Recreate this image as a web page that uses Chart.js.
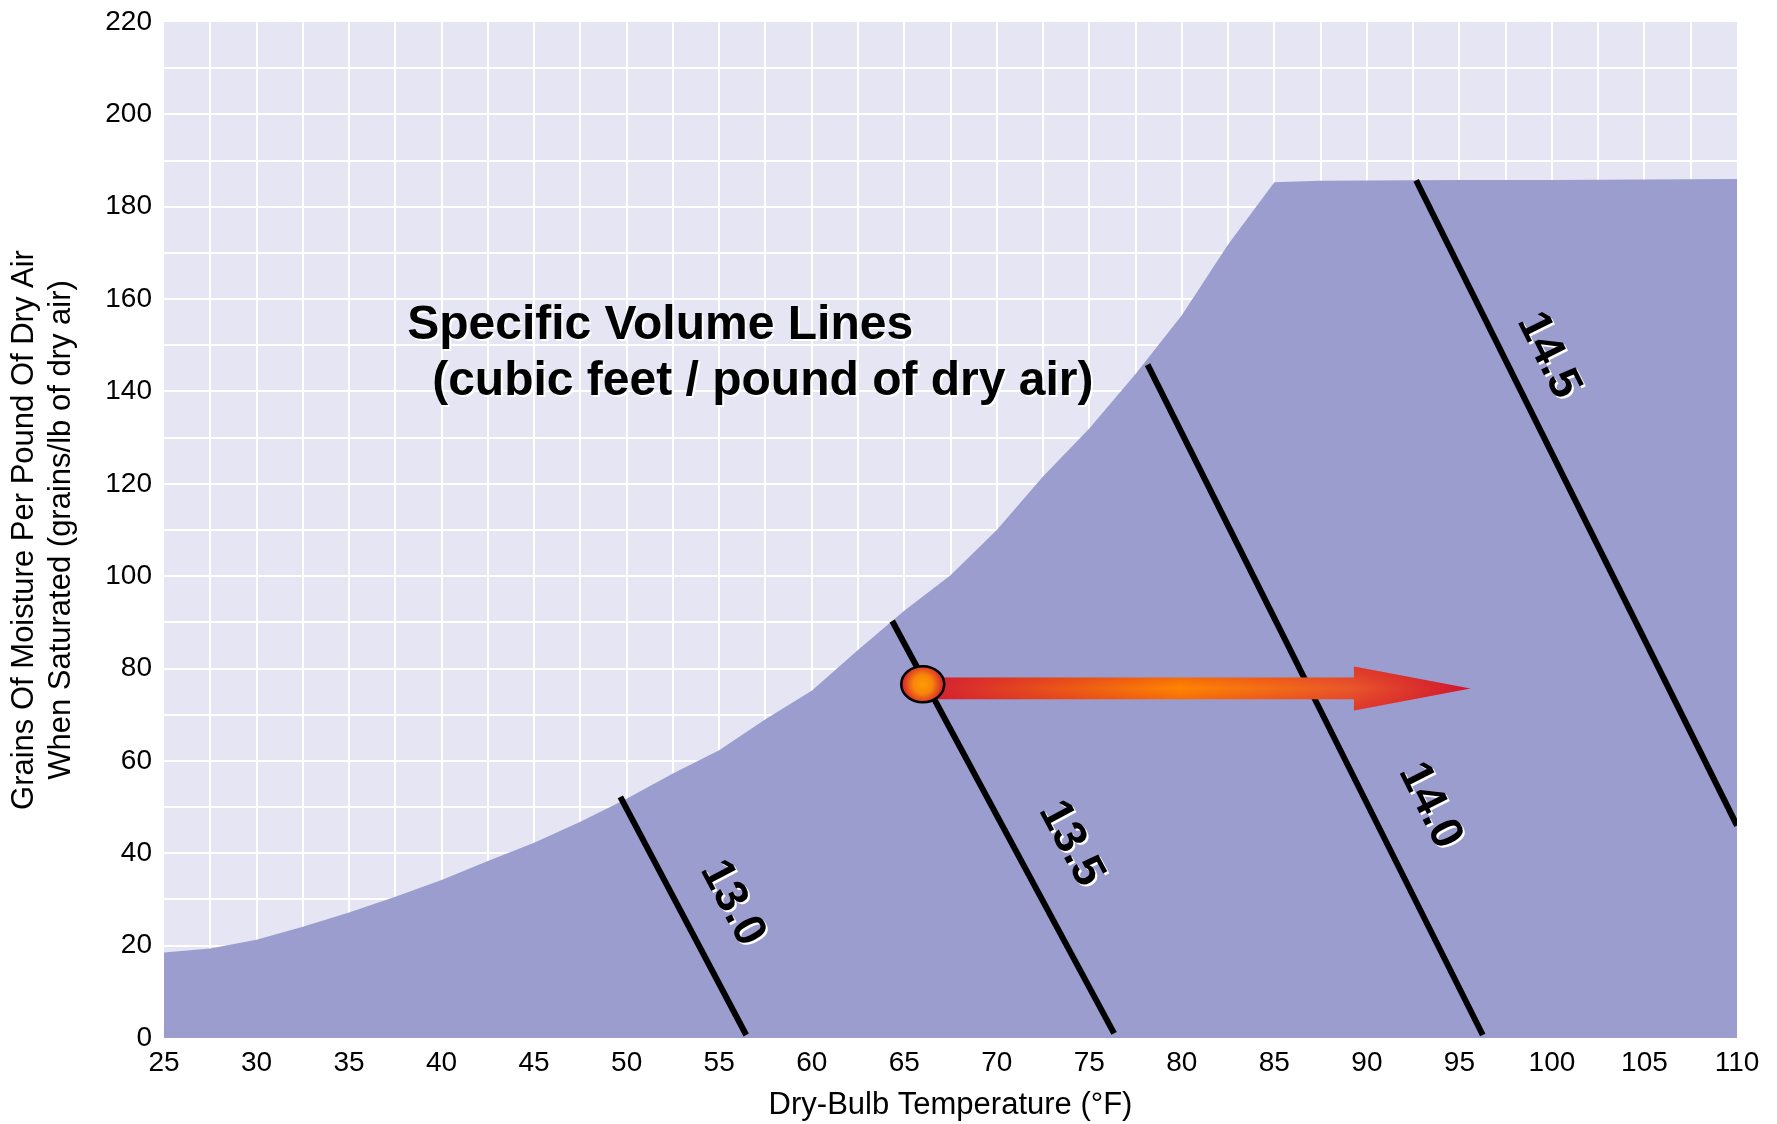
<!DOCTYPE html>
<html><head><meta charset="utf-8">
<script src="https://cdn.jsdelivr.net/npm/chart.js@4.4.1/dist/chart.umd.min.js"></script>
<style>html,body{margin:0;padding:0;background:#fff;}canvas{display:block;}</style>
</head><body>
<canvas id="c" width="1777" height="1124"></canvas>
<script>
// Saturation curve (grains of moisture per lb dry air)
const tempF = [25,27.5,30,32.5,35,37.5,40,42.5,45,47.5,50,52.5,55,57.5,60,62.5,65,67.5,70,72.5,75,77.5,80,82.5,85,87.5,90,95,100,105,110];
const satGrains = [18.5,19.4,21.3,24.1,27.2,30.6,34.2,38.3,42.3,46.8,51.8,57.3,62.3,69.0,75.2,84.0,92.5,100.2,110.0,121.6,132.0,143.8,156.5,171.8,185.3,185.6,185.7,185.8,185.8,185.9,186.0];

// Specific volume lines (cubic feet / lb dry air)
const volLabels = ['13.0','13.5','14.0','14.5'];
const volStartT = [49.66, 64.35, 78.15, 92.66];
const volStartW = [52.2, 90.3, 145.8, 185.7];
const volEndT   = [56.46, 76.34, 96.26, 110.0];
const volEndW   = [0.65, 1.0, 0.65, 46.0];
const volLabelT = [55.7, 74.0, 93.4, 99.8];
const volLabelW = [29.2, 42.1, 50.3, 147.8];

// State point and heating arrow
const stateT = 66.0, stateW = 76.6;
const arrowStartT = 66.0, arrowW = 75.7, arrowHeadT = 89.3, arrowTipT = 95.6;

// Title annotation
const noteLines = ['Specific Volume Lines', '(cubic feet / pound of dry air)'];
const noteT = [38.14, 39.49];
const noteW = [151.3, 139.2];

const xTicksMajor = 5, yTicksMajor = 20;
const FONT = '"Liberation Sans", Arial, Helvetica, sans-serif';

const datasets = [{
  data: tempF.map((t,i)=>({x:t,y:satGrains[i]})),
  fill: 'origin',
  backgroundColor: '#9B9DCF',
  borderColor: 'rgba(0,0,0,0)',
  borderWidth: 0,
  pointRadius: 0,
  tension: 0,
  order: 10
}];
volLabels.forEach((l,i)=>{
  datasets.push({
    data: [{x:volStartT[i],y:volStartW[i]},{x:volEndT[i],y:volEndW[i]}],
    fill: false,
    borderColor: '#000',
    borderWidth: 6,
    borderCapStyle: 'butt',
    pointRadius: 0,
    order: 1
  });
});

const bgPlugin = {
  id: 'bg',
  beforeDraw(chart){
    const {ctx, chartArea:a} = chart;
    ctx.save();
    ctx.fillStyle = '#E5E5F3';
    ctx.fillRect(a.left, a.top, a.right-a.left, a.bottom-a.top);
    ctx.restore();
  }
};

const annPlugin = {
  id: 'ann',
  afterDatasetsDraw(chart){
    const ctx = chart.ctx, xs = chart.scales.x, ys = chart.scales.y;
    // volume labels
    ctx.save();
    ctx.font = 'bold 46px ' + FONT;
    ctx.textAlign = 'center';
    ctx.textBaseline = 'middle';
    ctx.fillStyle = '#000';
    ctx.shadowColor = '#fff';
    ctx.shadowOffsetX = 2; ctx.shadowOffsetY = 2; ctx.shadowBlur = 0;
    volLabels.forEach((l,i)=>{
      const dx = xs.getPixelForValue(volEndT[i]) - xs.getPixelForValue(volStartT[i]);
      const dy = ys.getPixelForValue(volEndW[i]) - ys.getPixelForValue(volStartW[i]);
      const ang = Math.atan2(dy, dx);
      ctx.save();
      ctx.translate(xs.getPixelForValue(volLabelT[i]), ys.getPixelForValue(volLabelW[i]));
      ctx.rotate(ang);
      ctx.fillText(l, 0, 0);
      ctx.restore();
    });
    // title annotation
    ctx.font = 'bold 48px ' + FONT;
    ctx.textAlign = 'left';
    ctx.textBaseline = 'alphabetic';
    noteLines.forEach((s,i)=>{
      ctx.fillText(s, xs.getPixelForValue(noteT[i]), ys.getPixelForValue(noteW[i]));
    });
    ctx.restore();

    // arrow
    const y = ys.getPixelForValue(arrowW);
    const x0 = xs.getPixelForValue(arrowStartT);
    const xb = xs.getPixelForValue(arrowHeadT);
    const xt = xs.getPixelForValue(arrowTipT);
    const sh = 10.8, hh = 22;
    ctx.save();
    ctx.beginPath();
    ctx.moveTo(x0, y-sh); ctx.lineTo(xb, y-sh); ctx.lineTo(xb, y-hh);
    ctx.lineTo(xt, y); ctx.lineTo(xb, y+hh); ctx.lineTo(xb, y+sh); ctx.lineTo(x0, y+sh);
    ctx.closePath();
    const g = ctx.createLinearGradient(x0, 0, xt, 0);
    g.addColorStop(0, '#D21F34');
    g.addColorStop(0.47, '#FF8500');
    g.addColorStop(0.78, '#E9572A');
    g.addColorStop(1, '#D0152F');
    ctx.fillStyle = g;
    ctx.fill();
    ctx.clip();
    const gv = ctx.createLinearGradient(0, y-hh, 0, y+hh);
    gv.addColorStop(0, 'rgba(210,20,45,0.45)');
    gv.addColorStop(0.5, 'rgba(210,20,45,0)');
    gv.addColorStop(1, 'rgba(210,20,45,0.45)');
    ctx.fillStyle = gv;
    ctx.fillRect(x0, y-hh, xt-x0, 2*hh);
    ctx.restore();

    // state point
    const cx = xs.getPixelForValue(stateT), cy = ys.getPixelForValue(stateW);
    ctx.save();
    ctx.beginPath();
    ctx.ellipse(cx, cy, 21.5, 18, 0, 0, Math.PI*2);
    const rg = ctx.createRadialGradient(cx, cy, 0, cx, cy, 21);
    rg.addColorStop(0, '#FF9C00');
    rg.addColorStop(0.45, '#F7860A');
    rg.addColorStop(1, '#D41F30');
    ctx.fillStyle = rg;
    ctx.fill();
    ctx.lineWidth = 2.5;
    ctx.strokeStyle = '#000';
    ctx.stroke();
    ctx.restore();
  }
};

const edgeTransparent = (lo, hi) => (c) => {
  const v = c.tick && c.tick.value;
  return (v === lo || v === hi) ? 'rgba(0,0,0,0)' : '#FFFFFF';
};

new Chart(document.getElementById('c'), {
  type: 'line',
  data: { datasets },
  plugins: [bgPlugin, annPlugin],
  options: {
    responsive: false,
    animation: false,
    devicePixelRatio: 1,
    layout: { padding: { top: 22, right: 40, bottom: 0, left: 0 } },
    plugins: { legend: { display: false }, tooltip: { enabled: false } },
    scales: {
      x: {
        type: 'linear', min: 25, max: 110,
        border: { display: false },
        grid: { color: edgeTransparent(25, 110), lineWidth: 2, drawTicks: false },
        ticks: {
          stepSize: 2.5, autoSkip: false, maxRotation: 0, padding: 8,
          color: '#000', font: { family: FONT, size: 28 },
          callback: v => (v % xTicksMajor === 0 ? String(v) : '')
        },
        title: { display: true, text: 'Dry-Bulb Temperature (°F)', color: '#000',
                 font: { family: FONT, size: 31 }, padding: { top: 0, bottom: 0 } },
        afterFit: s => { s.height = 86; }
      },
      y: {
        min: 0, max: 220,
        border: { display: false },
        grid: { color: edgeTransparent(0, 220), lineWidth: 2, drawTicks: false },
        ticks: {
          stepSize: 10, autoSkip: false, padding: 12,
          color: '#000', font: { family: FONT, size: 28, lineHeight: 0.7 },
          callback: v => (v % yTicksMajor === 0 ? String(v) : '')
        },
        title: { display: true,
                 text: ['Grains Of Moisture Per Pound Of Dry Air', 'When Saturated (grains/lb of dry air)'],
                 color: '#000', font: { family: FONT, size: 31 }, padding: { top: 6, bottom: 0 } },
        afterFit: s => { s.width = 164; }
      }
    }
  }
});
</script>
</body></html>
